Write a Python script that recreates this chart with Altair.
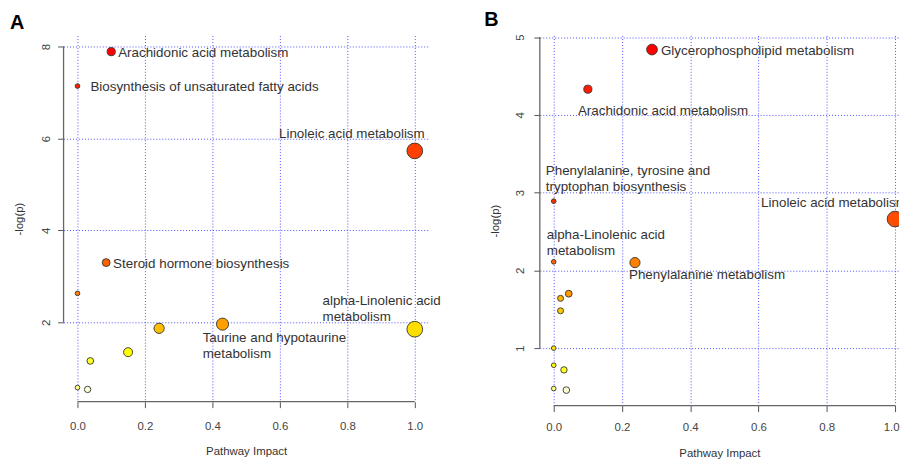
import altair as alt
import pandas as pd
import colorsys

# ---------------- data ----------------
A_impact = [0.10, 0.0, 1.0, 0.085, 0.0, 0.43, 0.242, 1.0, 0.15, 0.038, 0.0, 0.03]
A_logp = [7.89, 7.14, 5.73, 3.30, 2.63, 1.96, 1.87, 1.85, 1.35, 1.16, 0.58, 0.54]

B_impact = [0.288, 0.10, 0.0, 1.0, 0.0, 0.238, 0.044, 0.02, 0.02, 0.0, 0.0, 0.03, 0.0, 0.037]
B_logp = [4.84, 4.33, 2.89, 2.66, 2.11, 2.10, 1.70, 1.64, 1.48, 1.00, 0.78, 0.72, 0.48, 0.46]

A_label_text = [
    "Arachidonic acid metabolism",
    "Biosynthesis of unsaturated fatty acids",
    "Linoleic acid metabolism",
    "Steroid hormone biosynthesis",
    "alpha-Linolenic acid\n metabolism",
    "Taurine and hypotaurine\n metabolism",
]
A_label_point = [0, 1, 2, 3, 7, 5]

B_label_text = [
    "Glycerophospholipid metabolism",
    "Arachidonic acid metabolism",
    "Phenylalanine, tyrosine and\ntryptophan biosynthesis",
    "Linoleic acid metabolism",
    "alpha-Linolenic acid\n metabolism",
    "Phenylalanine metabolism",
]
B_label_point = [0, 1, 2, 3, 4, 5]

x_ticks = [0.0, 0.2, 0.4, 0.6, 0.8, 1.0]
A_y_ticks = [2, 4, 6, 8]
B_y_ticks = [1, 2, 3, 4, 5]

# label placement (pixel offsets from the point, alignment); dy is for the first line
A_label_style = [(7, 1, "left"), (13, 1, "left"), (10, -17, "right"),
                 (7, 1, "left"), (-93, -28, "left"), (-20, 14, "left")]
B_label_style = [(9, 1, "left"), (-10, 22, "left"), (-8, -30, "left"),
                 (-135, -16, "left"), (-7, -27, "left"), (-6, 13, "left")]

FONT = "Liberation Sans"
GRID = "#5050ff"


def heat_colors(n):
    j = n // 4
    i = n - j
    cols = []
    for k in range(i):
        h = (1 / 6) * k / (i - 1)
        r, g, b = colorsys.hsv_to_rgb(h, 1, 1)
        cols.append("#%02x%02x%02x" % (round(r * 255), round(g * 255), round(b * 255)))
    for k in range(j):
        s = (1 - 1 / (2 * j)) - k * ((1 - 1 / (2 * j)) - 1 / (2 * j)) / max(j - 1, 1)
        r, g, b = colorsys.hsv_to_rgb(1 / 6, s, 1)
        cols.append("#%02x%02x%02x" % (round(r * 255), round(g * 255), round(b * 255)))
    return cols


def panel(letter, impact, logp, labels, label_pts, label_style, x_dom, y_dom,
          y_ticks, w, h, clip, title_dx, title_offset, xlab_pad, xtitle_y,
          ylab_pad, ytitle_x, flush):
    n = len(impact)
    df = pd.DataFrame({"impact": impact, "logp": logp, "pid": list(range(n))})
    xs = alt.Scale(domain=x_dom, nice=False, zero=False)
    ys = alt.Scale(domain=y_dom, nice=False, zero=False)

    flush_opts = dict(labelFlush=12, labelFlushOffset=4) if flush else dict(labelFlush=False)
    x_axis = alt.Axis(values=x_ticks, format=".1f", grid=True, gridColor=GRID,
                      gridDash=[1, 2], gridWidth=1, domain=False, ticks=True,
                      tickColor="#555555", tickSize=6, labelFont=FONT,
                      labelFontSize=11.5, labelColor="#444444",
                      labelPadding=xlab_pad, title="Pathway Impact",
                      titleFont=FONT, titleFontSize=11.5, titleFontWeight="normal",
                      titleColor="#333333", titleX=w / 2, titleY=xtitle_y,
                      titleBaseline="middle", titleAlign="center", **flush_opts)
    y_axis = alt.Axis(values=y_ticks, format="d", grid=True, gridColor=GRID,
                      gridDash=[1, 2], gridWidth=1, domain=False, ticks=True,
                      tickColor="#555555", tickSize=6, labelFont=FONT,
                      labelFontSize=11.5, labelColor="#444444", labelAngle=270,
                      labelAlign="center", labelBaseline="bottom",
                      labelPadding=ylab_pad, title="-log(p)", titleFont=FONT,
                      titleFontSize=11.5, titleFontWeight="normal",
                      titleColor="#333333", titleAngle=270, titleX=ytitle_x,
                      titleY=h / 2, titleBaseline="middle", titleAlign="center",
                      labelFlush=False)

    base = alt.Chart(df)
    points = base.mark_circle(stroke="#333333", strokeWidth=0.9, opacity=1,
                              clip=clip).encode(
        x=alt.X("impact:Q", scale=xs, axis=x_axis),
        y=alt.Y("logp:Q", scale=ys, axis=y_axis),
        color=alt.Color("rank:O", scale=alt.Scale(domain=list(range(1, n + 1)),
                                                  range=heat_colors(n)),
                        legend=None),
        size=alt.Size("impact:Q", scale=alt.Scale(type="pow", exponent=0.7,
                                                  domain=[0, 1], range=[22, 250]),
                      legend=None),
    ).transform_window(rank="row_number()",
                       sort=[alt.SortField("logp", order="descending")])

    one = alt.Chart(pd.DataFrame({"x0": [x_ticks[0]], "x1": [x_ticks[-1]],
                                  "y0": [y_ticks[0]], "y1": [y_ticks[-1]]}))
    xline = one.mark_rule(color="#666666", strokeWidth=1.3).encode(
        x=alt.X("x0:Q", scale=xs), x2="x1:Q", y=alt.value(h))
    yline = one.mark_rule(color="#666666", strokeWidth=1.3).encode(
        y=alt.Y("y0:Q", scale=ys), y2="y1:Q", x=alt.value(0))

    layers = [xline, yline, points]
    for txt, pid, (dx, dy, al) in zip(labels, label_pts, label_style):
        layers.append(
            base.transform_filter(alt.datum.pid == pid)
            .transform_calculate(lab="'" + txt.replace("\n", "\\n") + "'")
            .mark_text(align=al, baseline="middle", dx=dx, dy=dy, font=FONT,
                       fontSize=13.5, color="#333333", lineBreak="\n",
                       lineHeight=16, clip=clip)
            .encode(x=alt.X("impact:Q", scale=xs),
                    y=alt.Y("logp:Q", scale=ys),
                    text="lab:N")
        )
    return alt.layer(*layers).properties(
        width=w, height=h,
        title=alt.TitleParams(text=letter, anchor="start", frame="group",
                              dx=title_dx, fontSize=20, font=FONT,
                              fontWeight="bold", color="black",
                              offset=title_offset),
    )


A = panel("A", A_impact, A_logp, A_label_text, A_label_point, A_label_style,
          x_dom=[-0.0413, 1.0413], y_dom=[0.273, 8.24], y_ticks=A_y_ticks,
          w=368, h=369, clip=False, title_dx=-54, title_offset=3,
          xlab_pad=13, xtitle_y=50, ylab_pad=6.5, ytitle_x=-44, flush=False)
B = panel("B", B_impact, B_logp, B_label_text, B_label_point, B_label_style,
          x_dom=[-0.0407, 1.0116], y_dom=[0.26, 5.02], y_ticks=B_y_ticks,
          w=362, h=373, clip=True, title_dx=-56, title_offset=4,
          xlab_pad=10, xtitle_y=48, ylab_pad=8.5, ytitle_x=-45, flush=True)

chart = alt.hconcat(A, B, spacing=112, bounds="flush").resolve_scale(
    x="independent", y="independent", color="independent", size="independent"
).properties(padding={"left": 2, "top": 0, "right": 0, "bottom": 0}).configure(
    background="white").configure_view(stroke="transparent", strokeWidth=0)

chart.save("out.html", embed_options={"renderer": "svg", "actions": False})
